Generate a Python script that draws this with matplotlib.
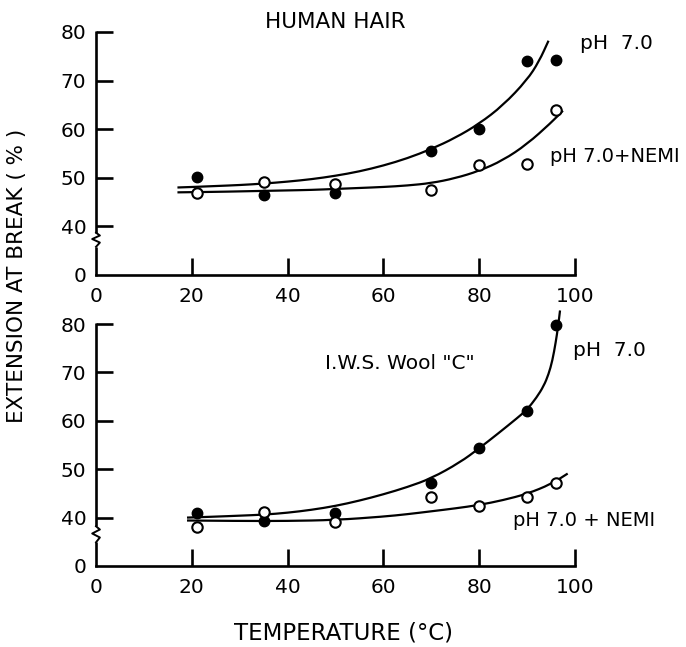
import matplotlib
matplotlib.use("Agg")
import matplotlib.pyplot as plt
import matplotlib.transforms as mtransforms
from matplotlib.path import Path
from matplotlib.patches import PathPatch

plt.rcParams['font.family'] = ['DejaVu Sans']

# ---- data ----
temps = [21, 35, 50, 70, 80, 90, 96]
hair_ph7 = [50.2, 46.5, 46.8, 55.6, 60.0, 74.0, 74.3]
hair_nemi = [46.8, 49.2, 48.8, 47.5, 52.7, 52.9, 64.0]
wool_ph7 = [41.0, 39.3, 41.0, 47.2, 54.4, 62.1, 79.8]
wool_nemi = [38.0, 41.1, 39.0, 44.3, 42.3, 44.3, 47.2]

# hand-drawn fitted curves
hair_ph7_fit_x = [17, 20, 25, 30, 35, 40, 45, 50, 55, 60, 65, 70, 75, 80, 85, 90, 92.5, 94.5]
hair_ph7_fit_y = [48.0, 48.1, 48.3, 48.5, 48.8, 49.2, 49.7, 50.4, 51.3, 52.5, 54.0, 55.9, 58.2, 61.1, 64.9, 70.1, 73.9, 78.2]
hair_nemi_fit_x = [17, 25, 30, 35, 40, 45, 50, 55, 60, 65, 70, 75, 80, 85, 90, 95, 97.5]
hair_nemi_fit_y = [47.0, 47.1, 47.2, 47.3, 47.4, 47.5, 47.7, 47.9, 48.1, 48.4, 48.9, 49.9, 51.4, 53.6, 56.9, 61.3, 63.8]
wool_ph7_fit_x = [19, 25, 30, 35, 40, 45, 50, 55, 60, 65, 70, 76, 80, 84, 88, 90, 92, 93.5, 94.5, 95.3, 96.0, 96.5, 96.9]
wool_ph7_fit_y = [40.0, 40.2, 40.4, 40.6, 41.0, 41.6, 42.4, 43.5, 44.8, 46.3, 48.1, 51.4, 54.3, 57.4, 60.6, 62.3, 64.8, 67.2, 69.6, 72.4, 76.2, 79.5, 82.8]
wool_nemi_fit_x = [19, 30, 40, 50, 60, 65, 70, 75, 80, 85, 90, 95, 98.5]
wool_nemi_fit_y = [39.4, 39.3, 39.3, 39.5, 40.2, 40.7, 41.3, 41.9, 42.6, 43.6, 44.9, 46.9, 49.1]

x_ticks = [0, 20, 40, 60, 80, 100]
y_ticks = [30, 40, 50, 60, 70, 80]
y_tick_labels = ['0', '40', '50', '60', '70', '80']

fig = plt.figure(figsize=(6.86, 6.47), dpi=100)
ax_top = fig.add_axes([0.140, 0.575, 0.698, 0.3756])
ax_bot = fig.add_axes([0.140, 0.1252, 0.698, 0.374])

lw = 1.9
clw = 1.6


def smooth_curve(ax, xs, ys):
    # quadratic B-spline style path through the read-off control points
    verts = [(xs[0], ys[0])]
    codes = [Path.MOVETO]
    for i in range(1, len(xs) - 1):
        mx = (xs[i] + xs[i + 1]) / 2.0
        my = (ys[i] + ys[i + 1]) / 2.0
        verts += [(xs[i], ys[i]), (mx, my)]
        codes += [Path.CURVE3, Path.CURVE3]
    verts.append((xs[-1], ys[-1]))
    codes.append(Path.LINETO)
    patch = PathPatch(Path(verts, codes), facecolor='none', edgecolor='black',
                      lw=clw, clip_on=False, zorder=2)
    ax.add_patch(patch)


def style(ax, brk):
    ax.set_xlim(0, 100)
    ax.set_ylim(30, 80)
    ax.spines['top'].set_visible(False)
    ax.spines['right'].set_visible(False)
    ax.spines['left'].set_visible(False)
    ax.spines['bottom'].set_linewidth(lw)
    ax.set_xticks(x_ticks)
    ax.set_yticks(y_ticks)
    ax.set_yticklabels(y_tick_labels)
    ax.tick_params(axis='x', direction='in', length=12, width=lw, pad=9, labelsize=14.5)
    ax.tick_params(axis='y', direction='in', length=12, width=lw, pad=7, labelsize=14.5)
    ax.yaxis.get_major_ticks()[0].tick1line.set_visible(False)
    ax.xaxis.get_major_ticks()[0].tick1line.set_visible(False)
    tr = mtransforms.blended_transform_factory(ax.transAxes, ax.transData)
    d = 0.008
    lo, hi = brk
    ax.plot([0, 0], [29.8, lo], color='black', lw=lw, transform=tr, clip_on=False, solid_capstyle='butt')
    span = hi - lo
    zx = [0, d, -d, d, 0]
    zy = [lo, lo + span * 0.3, lo + span * 0.55, lo + span * 0.8, hi]
    ax.plot(zx, zy, color='black', lw=1.4, transform=tr, clip_on=False)
    ax.plot([0, 0], [hi, 80.2], color='black', lw=lw, transform=tr, clip_on=False, solid_capstyle='butt')


style(ax_top, (35.8, 38.7))
style(ax_bot, (34.9, 38.2))

mk = dict(markersize=7.5, linestyle='none', zorder=3, clip_on=False)

# top panel
smooth_curve(ax_top, hair_ph7_fit_x, hair_ph7_fit_y)
smooth_curve(ax_top, hair_nemi_fit_x, hair_nemi_fit_y)
ax_top.plot(temps, hair_ph7, marker='o', color='black', markerfacecolor='black', **mk)
ax_top.plot(temps, hair_nemi, marker='o', color='black', markerfacecolor='white',
            markeredgewidth=1.5, **mk)
ax_top.text(35.3, 82.1, 'HUMAN HAIR', fontsize=15.5, ha='left', va='center')
ax_top.text(101, 77.7, 'pH  7.0', fontsize=14.5, ha='left', va='center')
ax_top.text(94.8, 54.3, 'pH 7.0+NEMI', fontsize=14, ha='left', va='center')

# bottom panel
smooth_curve(ax_bot, wool_ph7_fit_x, wool_ph7_fit_y)
smooth_curve(ax_bot, wool_nemi_fit_x, wool_nemi_fit_y)
ax_bot.plot(temps, wool_ph7, marker='o', color='black', markerfacecolor='black', **mk)
ax_bot.plot(temps, wool_nemi, marker='o', color='black', markerfacecolor='white',
            markeredgewidth=1.5, **mk)
ax_bot.text(47.8, 71.9, 'I.W.S. Wool "C"', fontsize=14.5, ha='left', va='center')
ax_bot.text(99.6, 74.6, 'pH  7.0', fontsize=14.5, ha='left', va='center')
ax_bot.text(87.1, 39.5, 'pH 7.0 + NEMI', fontsize=14, ha='left', va='center')

fig.text(0.025, 0.573, 'EXTENSION AT BREAK ( % )', rotation=90, fontsize=15.5,
         ha='center', va='center')
fig.text(0.5, 0.022, 'TEMPERATURE (°C)', fontsize=16.5, ha='center', va='center')

fig.savefig('out.png', dpi=100)
